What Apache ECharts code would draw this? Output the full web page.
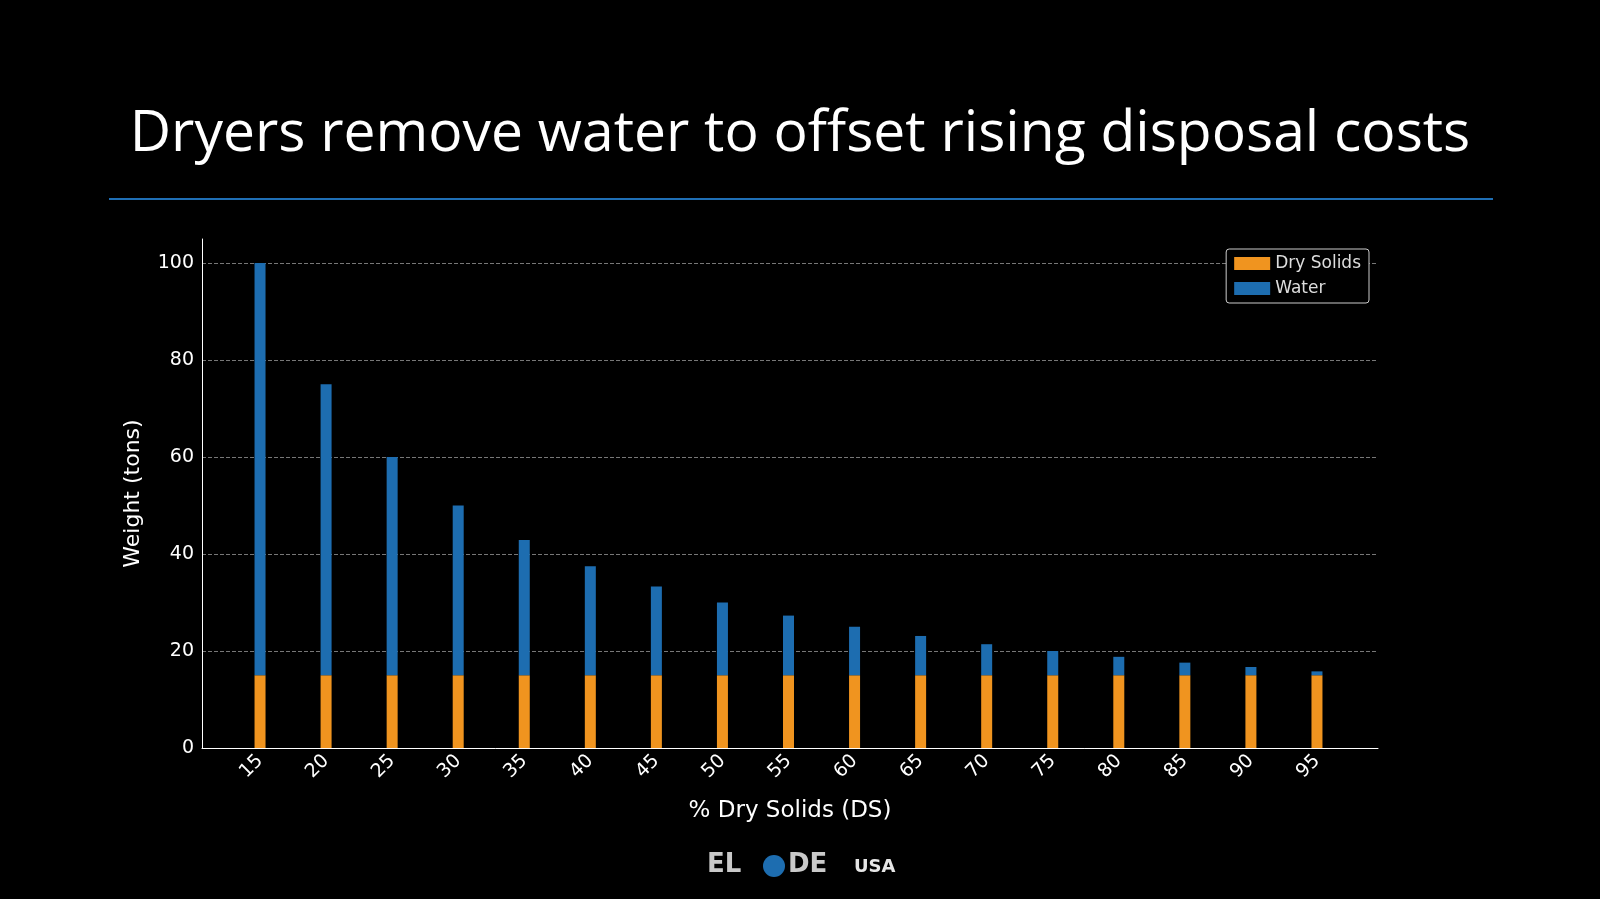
<!DOCTYPE html>
<html><head><meta charset="utf-8">
<script src="https://cdn.jsdelivr.net/npm/echarts@6/dist/echarts.min.js"></script>
<style>html,body{margin:0;background:#000}#c{width:1600px;height:899px}</style>
</head><body><div id="c"></div>
<script>
const categories = ['15','20','25','30','35','40','45','50','55','60','65','70','75','80','85','90','95'];
const drySolids = [15,15,15,15,15,15,15,15,15,15,15,15,15,15,15,15,15];
const water = [85,60,45,35,27.9,22.5,18.3,15,12.3,10,8.1,6.4,5,3.8,2.6,1.7,0.8];
const yTicks = [0,20,40,60,80,100];
const chart = echarts.init(document.getElementById('c'));
chart.setOption({
  backgroundColor:'#000',
  textStyle:{fontFamily:'DejaVu Sans'},
  graphic:[
    {type:'text',left:'center',top:106,style:{text:'Dryers remove water to offset rising disposal costs',fill:'#fff',font:'57px "Open Sans", sans-serif'}},
    {type:'rect',shape:{x:109,y:198,width:1384,height:2},style:{fill:'#1f6fb5'}},
    {type:'text',left:707,top:852,style:{text:'EL',fill:'#c9c9c9',font:'bold 26px "DejaVu Sans"'}},
    {type:'circle',shape:{cx:774,cy:866,r:11},style:{fill:'#1d6db0'}},
    {type:'text',left:788,top:852,style:{text:'DE',fill:'#c9c9c9',font:'bold 26px "DejaVu Sans"'}},
    {type:'text',left:854,top:858,style:{text:'USA',fill:'#e6e6e6',font:'bold 18px "DejaVu Sans"'}}
  ],
  legend:{right:231,top:249,orient:'vertical',icon:'rect',itemWidth:36,itemHeight:13,itemGap:8,
    backgroundColor:'#000',borderColor:'#ccc',borderWidth:1,borderRadius:3,padding:[6,8],
    textStyle:{color:'#ddd',fontSize:17},data:['Dry Solids','Water']},
  grid:[
    {left:202,right:222,top:239,bottom:151},
    {left:227,right:250,top:263,bottom:151},
    {left:202,right:222,top:263,bottom:151}
  ],
  xAxis:[
    {gridIndex:0,type:'category',data:categories,axisLine:{lineStyle:{color:'#fff'}},axisTick:{show:false},axisLabel:{show:false},
     name:'% Dry Solids (DS)',nameLocation:'middle',nameGap:52,nameTextStyle:{color:'#fff',fontSize:23}},
    {gridIndex:1,type:'category',data:categories,axisLine:{show:false},axisTick:{show:false},
     axisLabel:{color:'#fff',fontSize:19,rotate:45,margin:10}},
    {gridIndex:2,type:'category',data:categories,show:false}
  ],
  yAxis:[
    {gridIndex:0,type:'value',min:0,max:105,interval:20,name:'Weight (tons)',nameLocation:'middle',nameGap:58,
     nameTextStyle:{color:'#fff',fontSize:22},
     axisLine:{show:true,lineStyle:{color:'#fff'}},axisTick:{show:false},
     axisLabel:{color:'#fff',fontSize:19,formatter:v=>yTicks.includes(v)?v:''},splitLine:{show:false}},
    {gridIndex:1,type:'value',min:0,max:100,show:false,splitLine:{show:false}},
    {gridIndex:2,type:'value',min:0,max:100,interval:20,axisLine:{show:false},axisLabel:{show:false},axisTick:{show:false},
     splitLine:{lineStyle:{color:'#777',type:'dashed'}}}
  ],
  series:[
    {name:'Dry Solids',type:'bar',stack:'a',xAxisIndex:1,yAxisIndex:1,data:drySolids,barWidth:11,itemStyle:{color:'#f0941f'}},
    {name:'Water',type:'bar',stack:'a',xAxisIndex:1,yAxisIndex:1,data:water,barWidth:11,itemStyle:{color:'#1d6db0'}}
  ]
});
</script></body></html>
